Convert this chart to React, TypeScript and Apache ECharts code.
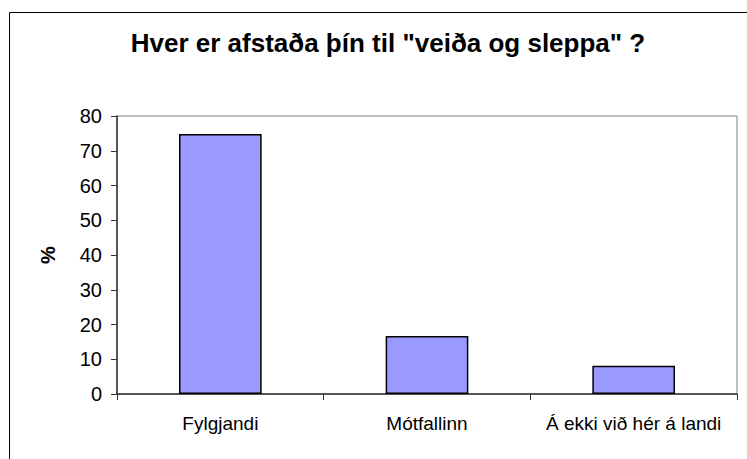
import React, { useEffect, useRef } from "react";
import * as echarts from "echarts";

const categories = ["Fylgjandi", "Mótfallinn", "Á ekki við hér á landi"];
const values = [74.8, 16.7, 8.1];
const titleText = 'Hver er afstaða þín til "veiða og sleppa" ?';
const yAxisName = "%";

export default function App() {
  const ref = useRef<HTMLDivElement>(null);
  useEffect(() => {
    if (!ref.current) return;
    const chart = echarts.init(ref.current, undefined, { renderer: "svg" });
    const font = "'Liberation Sans', Arial, sans-serif";
    chart.setOption({
      animation: false,
      backgroundColor: "#fff",
      graphic: [
        {
          type: "rect",
          shape: { x: 9.5, y: 12.5, width: 800, height: 500 },
          style: { fill: "none", stroke: "#000", lineWidth: 1 },
          silent: true,
        },
        {
          type: "text",
          x: 388,
          y: 43,
          silent: true,
          style: {
            text: titleText,
            fontFamily: font,
            fontSize: 26,
            fontWeight: "bold",
            fill: "#000",
            align: "center",
            verticalAlign: "middle",
          },
        },
      ],
      grid: {
        left: 117,
        top: 116,
        right: 10,
        bottom: 65,
        show: true,
        borderColor: "#808080",
        borderWidth: 1,
      },
      xAxis: {
        type: "category",
        data: categories,
        axisLine: { show: true, lineStyle: { color: "#333", width: 1.5 } },
        axisTick: { show: true, alignWithLabel: false, length: 6, lineStyle: { color: "#333" } },
        axisLabel: {
          interval: 0,
          hideOverlap: false,
          margin: 20,
          fontFamily: font,
          fontSize: 19,
          color: "#000",
        },
        splitLine: { show: false },
      },
      yAxis: {
        type: "value",
        min: 0,
        max: 80,
        interval: 10,
        name: yAxisName,
        nameLocation: "middle",
        nameGap: 59,
        nameRotate: 90,
        nameTextStyle: { fontFamily: font, fontSize: 20, fontWeight: "bold", color: "#000" },
        axisLine: { show: true, lineStyle: { color: "#333", width: 1.5 } },
        axisTick: { show: true, length: 6, lineStyle: { color: "#333" } },
        axisLabel: { margin: 15, fontFamily: font, fontSize: 20, color: "#000" },
        splitLine: { show: false },
      },
      series: [
        {
          type: "bar",
          data: values,
          barWidth: "40%",
          itemStyle: { color: "#9999FF", borderColor: "#000", borderWidth: 1.5 },
        },
      ],
    });
    return () => chart.dispose();
  }, []);
  return (
    <div
      ref={ref}
      style={{ position: "fixed", left: 0, top: 0, width: 747, height: 459 }}
    />
  );
}
